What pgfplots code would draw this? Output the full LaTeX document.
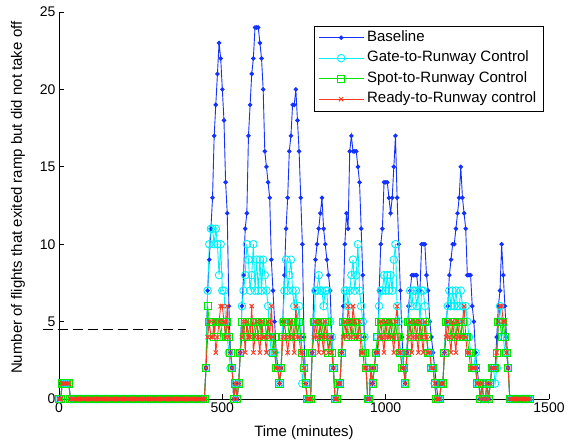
\documentclass[border=0pt]{standalone}
\usepackage{pgfplots}
\pgfplotsset{compat=1.18}
\usepackage{pgfplotstable}
\usepackage{fontspec}
\setmainfont{Liberation Sans}
\definecolor{cb}{RGB}{20,50,255}
\definecolor{cc}{RGB}{0,240,250}
\definecolor{cg}{RGB}{0,230,0}
\definecolor{cr}{RGB}{255,55,35}

\pgfplotstableread{
t b g s r
0 0 0 0 0
5 0 0 0 0
10 1 1 1 1
15 1 1 1 1
20 1 1 1 1
25 1 1 1 1
30 1 1 1 1
35 0 0 0 0
40 0 0 0 0
45 0 0 0 0
50 0 0 0 0
55 0 0 0 0
60 0 0 0 0
65 0 0 0 0
70 0 0 0 0
75 0 0 0 0
80 0 0 0 0
85 0 0 0 0
90 0 0 0 0
95 0 0 0 0
100 0 0 0 0
105 0 0 0 0
110 0 0 0 0
115 0 0 0 0
120 0 0 0 0
125 0 0 0 0
130 0 0 0 0
135 0 0 0 0
140 0 0 0 0
145 0 0 0 0
150 0 0 0 0
155 0 0 0 0
160 0 0 0 0
165 0 0 0 0
170 0 0 0 0
175 0 0 0 0
180 0 0 0 0
185 0 0 0 0
190 0 0 0 0
195 0 0 0 0
200 0 0 0 0
205 0 0 0 0
210 0 0 0 0
215 0 0 0 0
220 0 0 0 0
225 0 0 0 0
230 0 0 0 0
235 0 0 0 0
240 0 0 0 0
245 0 0 0 0
250 0 0 0 0
255 0 0 0 0
260 0 0 0 0
265 0 0 0 0
270 0 0 0 0
275 0 0 0 0
280 0 0 0 0
285 0 0 0 0
290 0 0 0 0
295 0 0 0 0
300 0 0 0 0
305 0 0 0 0
310 0 0 0 0
315 0 0 0 0
320 0 0 0 0
325 0 0 0 0
330 0 0 0 0
335 0 0 0 0
340 0 0 0 0
345 0 0 0 0
350 0 0 0 0
355 0 0 0 0
360 0 0 0 0
365 0 0 0 0
370 0 0 0 0
375 0 0 0 0
380 0 0 0 0
385 0 0 0 0
390 0 0 0 0
395 0 0 0 0
400 0 0 0 0
405 0 0 0 0
410 0 0 0 0
415 0 0 0 0
420 0 0 0 0
425 0 0 0 0
430 0 0 0 0
435 0 0 0 0
440 0 0 0 0
445 0 0 0 0
450 2 2 2 2
455 7 7 6 4
460 9 10 5 5
465 11 11 5 4
470 13 11 5 4
475 17 10 4 5
480 19 11 5 3
485 21 10 5 4
490 23 8 5 5
495 22 10 4 6
500 20 7 5 6
505 18 7 5 5
510 14 5 4 4
515 12 4 5 6
520 6 3 4 4
525 3 2 3 3
530 2 2 2 2
535 0 0 0 0
540 1 1 1 1
545 0 0 0 0
550 1 1 1 1
555 3 3 3 3
560 6 6 5 4
565 8 7 4 5
570 11 8 5 3
575 12 10 5 5
580 17 9 4 4
585 19 7 5 4
590 21 8 5 6
595 22 10 4 3
600 24 7 5 4
605 24 9 5 5
610 24 7 4 4
615 23 9 5 3
620 22 7 4 5
625 20 9 5 4
630 16 8 5 4
635 15 7 4 3
640 14 6 5 5
645 13 4 4 4
650 9 3 4 6
655 7 3 3 4
660 5 3 4 3
665 3 2 2 2
670 2 2 2 2
675 1 1 1 1
680 2 2 2 2
685 5 5 4 4
690 8 7 5 5
695 11 9 5 4
700 13 7 5 3
705 16 8 4 4
710 17 9 5 5
715 19 7 5 4
720 19 6 4 3
725 20 7 5 6
730 18 5 4 4
735 16 6 5 4
740 13 4 4 3
745 10 1 3 3
750 4 2 2 2
755 1 1 1 1
760 0 0 0 0
765 0 0 0 0
770 0 0 0 0
775 3 3 3 3
780 7 5 5 4
785 9 7 5 5
790 10 7 5 4
795 11 8 4 3
800 12 7 5 5
805 13 7 5 4
810 11 6 4 3
815 10 7 5 5
820 9 7 5 4
825 8 5 3 3
830 7 5 4 4
835 4 4 3 3
840 2 2 2 2
845 0 0 0 0
850 0 0 0 0
855 1 1 1 1
860 1 1 1 1
865 3 3 3 3
870 6 5 5 4
875 10 7 5 5
880 12 7 5 4
885 11 6 4 6
890 16 7 5 5
895 17 8 5 4
900 16 9 4 6
905 16 7 5 5
910 16 8 5 4
915 15 10 4 4
920 14 7 5 5
925 11 6 4 3
930 8 5 3 3
935 4 4 3 2
940 2 2 2 2
945 0 0 0 0
950 0 0 0 0
955 2 2 2 2
960 1 1 1 1
965 2 2 2 2
970 3 3 3 3
975 3 4 4 3
980 7 6 5 4
985 10 7 5 5
990 11 7 5 4
995 14 8 4 3
1000 14 7 5 5
1005 14 8 5 4
1010 13 7 4 4
1015 12 8 5 5
1020 13 7 5 4
1025 15 9 4 3
1030 17 10 5 5
1035 13 6 4 6
1040 10 5 4 3
1045 7 3 3 3
1050 4 3 2 2
1055 2 2 2 2
1060 1 1 1 1
1065 3 3 3 3
1070 6 5 5 4
1075 7 7 5 5
1080 8 6 4 3
1085 8 7 5 4
1090 8 7 5 5
1095 8 6 4 4
1100 7 7 5 3
1105 7 5 5 5
1110 10 7 4 4
1115 10 7 5 3
1120 10 6 5 5
1125 8 5 4 4
1130 7 3 3 3
1135 5 3 3 3
1140 4 2 2 2
1145 3 2 2 2
1150 2 1 1 1
1155 1 0 0 0
1160 0 0 0 0
1165 0 0 0 0
1170 1 1 1 1
1175 1 1 1 1
1180 3 3 3 3
1185 5 5 5 4
1190 6 6 5 5
1195 8 7 5 4
1200 9 6 4 3
1205 10 7 5 5
1210 10 6 5 4
1215 11 7 4 3
1220 12 6 5 5
1225 13 6 5 4
1230 15 7 4 4
1235 13 6 5 5
1240 12 5 4 6
1245 11 6 4 4
1250 8 5 4 3
1255 8 4 3 3
1260 8 3 3 2
1265 6 2 2 2
1270 5 2 2 2
1275 3 3 2 2
1280 2 1 1 1
1285 1 1 1 1
1290 0 0 0 0
1295 1 1 1 1
1300 0 0 0 0
1305 0 0 0 0
1310 1 1 1 1
1315 0 0 0 0
1320 1 1 1 1
1325 2 2 2 2
1330 2 2 2 2
1335 2 1 2 2
1340 4 2 3 3
1345 6 5 5 5
1350 7 6 5 6
1355 10 5 4 6
1360 8 4 5 5
1365 6 3 4 5
1370 4 3 3 3
1375 2 2 2 2
1380 0 0 0 0
1385 0 0 0 0
1390 0 0 0 0
1395 0 0 0 0
1400 0 0 0 0
1405 0 0 0 0
1410 0 0 0 0
1415 0 0 0 0
1420 0 0 0 0
1425 0 0 0 0
1430 0 0 0 0
1435 0 0 0 0
1440 0 0 0 0
}\datatable

\begin{document}
\begin{tikzpicture}
\path[use as bounding box] (-59pt,-45pt) rectangle (510pt,399pt);
\begin{axis}[
  scale only axis, width=490pt, height=387pt,
  at={(0pt,0pt)}, anchor=south west,
  xmin=0, xmax=1500, ymin=0, ymax=25,
  axis x line=bottom, axis y line=left,
  axis line style={-, line width=0.8pt, black},
  xtick={0,500,1000,1500}, ytick={0,5,10,15,20,25},
  tick align=inside, major tick length=5pt,
  tick style={black, line width=0.8pt},
  ticklabel style={font=\fontsize{14}{16}\selectfont},
  /pgf/number format/assume math mode=true,
  /pgf/number format/1000 sep={},
  xlabel={Time (minutes)},
  ylabel={Number of flights that exited ramp but did not take off},
  label style={font=\fontsize{15}{17}\selectfont},
  xlabel style={at={(axis description cs:0.5,-0.088)}, anchor=center},
  ylabel style={at={(axis description cs:-0.0837,0.52)}, anchor=center},
  clip=false,
  legend cell align=left,
  legend image code/.code={\draw[mark repeat=2,mark phase=2,#1] plot coordinates {(0pt,0pt) (22.5pt,0pt) (45pt,0pt)};},
  legend style={at={(axis description cs:0.520,0.965)}, anchor=north west,
    draw=black, line width=0.8pt, fill=white,
    font=\fontsize{15}{17}\selectfont,
    inner xsep=4pt, inner ysep=4pt,
    row sep=5pt,
    nodes={inner xsep=3pt, inner ysep=1pt, text height=10.5pt, text depth=3pt}},
]
\addplot[color=cb, line width=0.9pt, mark=*, mark size=1.8pt, mark options={solid, fill=cb}] table[x=t,y=b] {\datatable};
\addlegendentry{Baseline}
\addplot[color=cc, line width=0.9pt, mark=o, mark size=3.8pt, mark options={solid}] table[x=t,y=g] {\datatable};
\addlegendentry{Gate-to-Runway Control}
\addplot[color=cg, line width=0.9pt, mark=square, mark size=3.6pt, mark options={solid}] table[x=t,y=s] {\datatable};
\addlegendentry{Spot-to-Runway Control}
\addplot[color=cr, line width=0.9pt, mark=x, mark size=3pt, mark options={solid}] table[x=t,y=r] {\datatable};
\addlegendentry{Ready-to-Runway control}
\addplot[black, line width=1.6pt, dash pattern=on 10pt off 5pt, forget plot] coordinates {(-50,4.5) (390,4.5)};
\end{axis}
\end{tikzpicture}
\end{document}
